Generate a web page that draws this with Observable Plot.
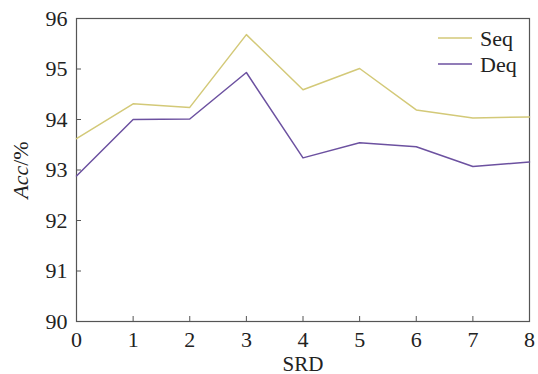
<!DOCTYPE html>
<html><head><meta charset="utf-8">
<script src="https://cdn.jsdelivr.net/npm/d3@7"></script>
<script src="https://cdn.jsdelivr.net/npm/@observablehq/plot@0.6"></script>
<style>
body{margin:0;background:#fff;}
#chart{position:relative;width:538px;height:374px;}
#chart svg, #chart svg text, #chart svg tspan{font-family:"Liberation Serif","Times New Roman","DejaVu Serif",serif !important;}
</style></head><body><div id="chart"></div>
<script>
const srd = [0,1,2,3,4,5,6,7,8];
const seq = [93.62,94.31,94.24,95.68,94.59,95.01,94.19,94.03,94.05];
const deq = [92.88,94.00,94.01,94.93,93.24,93.54,93.46,93.07,93.16];
const seriesNames = ["Seq","Deq"];
const colors = ["#d3c978","#6c51a0"];
const yTicks = [90,91,92,93,94,95,96];

const data = [];
srd.forEach((s,i)=>{data.push({srd:s,acc:seq[i],series:"Seq"});data.push({srd:s,acc:deq[i],series:"Deq"});});

const plot = Plot.plot({
  width:538, height:374,
  marginLeft:76, marginRight:9, marginTop:18, marginBottom:53,
  style:{fontSize:"22px", color:"#222", background:"#fff"},
  x:{domain:[0,8]},
  y:{domain:[90,96]},
  color:{domain:seriesNames, range:colors},
  marks:[
    Plot.frame({stroke:"#555", strokeWidth:1.2}),
    Plot.axisX(srd,{tickSize:-5, tickFormat:()=>"", stroke:"#555", label:null}),
    Plot.axisX(srd,{tickSize:0, tickPadding:10, tickFormat:d=>String(d), label:"SRD", labelAnchor:"center", labelArrow:"none", labelOffset:49, fill:"#222"}),
    Plot.axisY(yTicks,{tickSize:-5, tickFormat:()=>"", stroke:"#555", label:null}),
    Plot.axisY(yTicks,{tickSize:0, tickPadding:9, tickFormat:d=>String(d), label:"Acc/%", labelAnchor:"center", labelArrow:"none", labelOffset:64, fill:"#222"}),
    Plot.line(data,{x:"srd", y:"acc", stroke:"series", strokeWidth:1.5})
  ]
});
document.getElementById("chart").appendChild(plot);

const svg = d3.select(plot);
svg.selectAll("text").each(function(){
  const t = d3.select(this);
  if (t.text()==="Acc/%") {
    t.text("");
    t.append("tspan").attr("font-style","italic").text("Acc");
    t.append("tspan").text("/%");
  } else if (t.text()==="SRD") {
    t.attr("font-size","21px").style("font-size","21px");
  }
});

const lg = svg.append("g").attr("font-size","22px").attr("text-anchor","start");
seriesNames.forEach((name,i)=>{
  const y = 38 + i*26;
  lg.append("line").attr("x1",438).attr("x2",472).attr("y1",y).attr("y2",y).attr("stroke",colors[i]).attr("stroke-width",1.5);
  lg.append("text").attr("x",480).attr("y",y).attr("dy","0.35em").attr("fill","#222").attr("text-anchor","start").text(name);
});
</script></body></html>
